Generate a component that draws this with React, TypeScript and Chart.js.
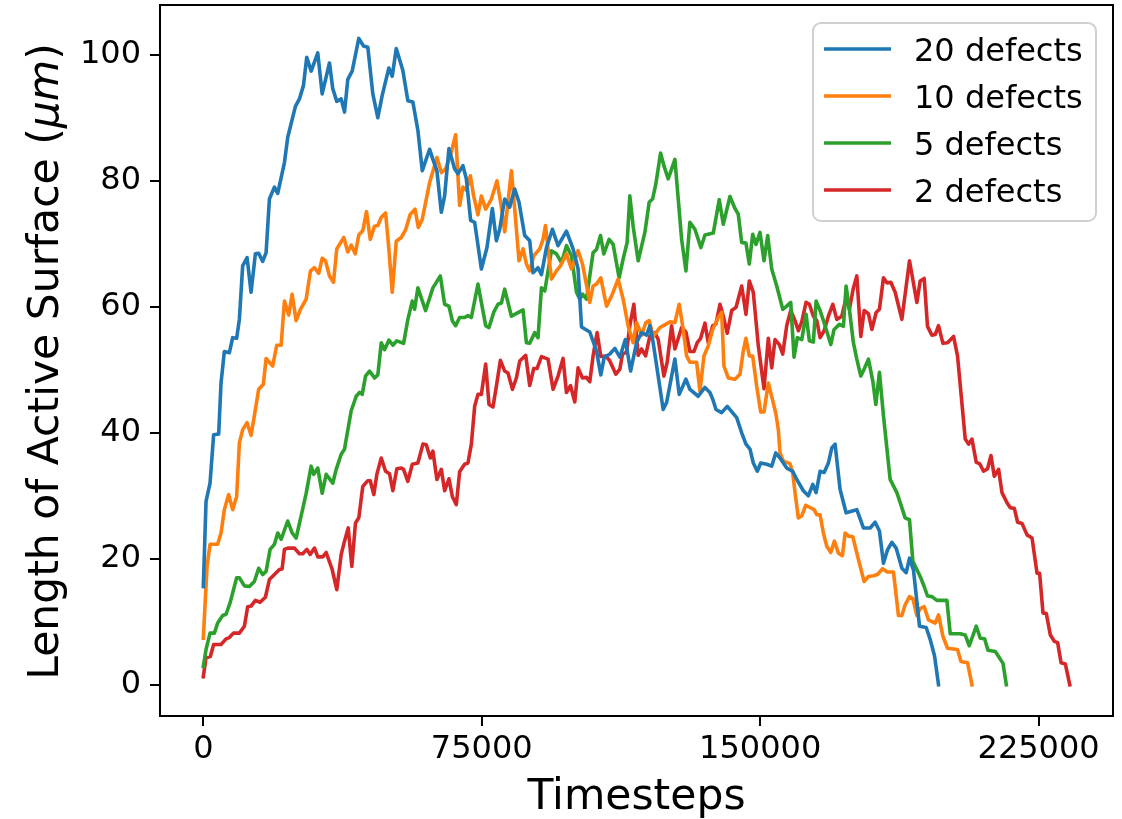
import React, { useEffect, useRef } from 'react';
import { Chart, registerables } from 'chart.js';

Chart.register(...registerables);

// Timesteps are stored in thousands (k), values in µm.
const seriesLabels = ['20 defects', '10 defects', '5 defects', '2 defects'];
const seriesColors = ['#1f77b4', '#ff7f0e', '#2ca02c', '#d62728'];

const defects20: [number, number][] = [[0,15.6],[0.73,29.1],[1.81,32],[2.78,39.7],[4.13,39.8],[4.77,47.9],[5.66,52.9],[7.01,52.7],[7.9,55.1],[8.98,55.0],[9.71,58],[10.6,66.5],[11.79,67.8],[12.86,62.3],[14.02,68.4],[14.91,68.5],[15.99,67.2],[16.91,68.6],[17.8,77.1],[19.15,79],[20.04,78],[21.85,82.9],[22.74,86.9],[24.81,91.8],[25.89,93],[26.97,95.1],[27.86,99.6],[29.05,97.4],[30.83,100.3],[32.01,93.8],[33.98,98.7],[34.87,94.6],[35.95,92.6],[37.14,93],[38.03,90.9],[38.92,96.1],[40.1,97.4],[41.88,102.6],[43.15,101.4],[44.31,101.2],[45.66,93.8],[47.01,90],[48.2,93.6],[49.98,97.9],[50.89,96.6],[51.97,101],[53.75,97.5],[55.1,92.7],[56.45,92.5],[57.8,88],[58.98,81.6],[60.95,85],[61.84,83.4],[62.92,81.6],[64.11,75],[65.0,77.6],[66.16,85.1],[67.69,81.9],[68.58,81.1],[69.93,82.4],[70.85,80.3],[72.01,73.7],[73.09,73.4],[74.9,66],[76.41,69.4],[77.86,75.6],[78.94,70.5],[79.83,72.3],[81.18,77.1],[82.53,75.8],[83.88,78.7],[85.04,76.6],[86.57,71.3],[87.92,70.5],[88.81,65.4],[90.16,66.2],[91.08,65.1],[92.43,69.4],[94.04,72.3],[95.55,69.7],[97.82,72],[99.6,69.2],[100.95,66],[101.87,56.8],[104.1,56],[105.9,53],[107.07,49.2],[108.0,52],[109.5,52.5],[110.85,53.4],[112.2,52],[113.68,54.8],[115.1,49.8],[116.7,54.3],[118.05,55.9],[119.4,55.5],[120.3,57],[121.18,54.3],[123.87,43.7],[124.79,44.8],[127.02,51.7],[128.19,46.1],[129.99,48.5],[131.07,46.9],[133.31,45.8],[135.12,47.2],[136.47,46.4],[137.36,45.1],[138.09,43.7],[139.62,43.2],[141.13,44.2],[143.67,42.4],[145.02,40],[146.17,38.2],[147.26,37.4],[148.15,35.2],[149.23,33.9],[150.14,35.2],[151.76,35],[153.11,34.7],[154.19,36.8],[155.35,36],[157.15,34.4],[158.77,33.9],[159.85,32.6],[161.63,30.8],[162.98,30],[164.17,31.8],[165.06,30.5],[166.14,33.9],[167.23,33.7],[168.37,35.2],[169.29,37.6],[170.18,38.2],[171.53,31],[173.14,27.3],[176.03,27.8],[177.81,24.9],[179.62,24.9],[180.97,25.8],[182.13,24.4],[183.21,19.3],[184.28,21.4],[185.47,22.6],[186.63,21.7],[188.17,18.5],[189.33,17.8],[190.22,20.1],[191.3,18.2],[192.92,9.3],[194.72,9.1],[195.8,7.2],[196.96,4.6],[198.04,0]];

const defects10: [number, number][] = [[0,7.4],[1.0,18.8],[1.81,22.3],[3.86,22.3],[4.77,24.1],[5.66,27.8],[6.82,30.2],[7.9,27.8],[8.98,29.9],[9.71,38.4],[10.6,40.5],[11.79,41.6],[12.86,39.6],[13.75,42.7],[14.91,46.9],[16.18,47.7],[16.91,51.8],[18.69,50.6],[19.77,53.9],[20.96,53.9],[21.85,60.9],[23.01,58.7],[23.92,62],[25.0,57.8],[26.16,59.6],[27.7,61.2],[28.86,65.7],[29.94,66.2],[31.1,65.3],[32.01,67.7],[32.9,67.3],[33.98,64.9],[35.06,63.9],[35.95,69.2],[37.84,71],[38.92,68.7],[39.83,69.8],[40.91,68.4],[41.88,71.4],[42.96,72.1],[43.96,75.1],[44.96,70.7],[46.12,72.8],[47.01,72.9],[47.93,74.2],[49.09,74.9],[49.98,69.2],[50.89,62.3],[51.97,70.4],[53.32,71.0],[54.48,72.2],[55.69,74.6],[57.02,75.5],[57.91,72.6],[58.98,73.9],[60.95,79.7],[62.92,83.7],[64.11,81.3],[65.27,81.9],[66.54,84],[67.96,87.3],[69.04,76.1],[69.93,79],[70.85,78.5],[71.93,80.8],[72.82,77.6],[73.98,74.6],[74.9,77.6],[76.06,75.5],[77.59,77.1],[79.1,80],[80.29,75.8],[81.18,71.9],[82.07,76.6],[82.99,81.6],[83.88,75.5],[85.04,67.3],[86.12,69.2],[87.03,66.8],[87.92,65.7],[89.0,68.1],[90.62,69.2],[91.51,70.7],[92.16,72.9],[92.86,69.2],[93.77,64.4],[95.12,65.7],[96.2,66.5],[97.82,68.4],[99.17,66],[100.95,68.9],[102.13,66.8],[104.1,60.7],[104.99,63.3],[105.9,63.6],[107.07,64.6],[108.61,60.1],[109.96,61.7],[111.74,64.4],[113.09,61.2],[114.43,57],[115.78,54.3],[116.7,57.5],[118.05,55.5],[119.21,57.5],[120.1,57.8],[121.18,55.3],[122.98,56.7],[125.68,57.6],[127.03,57.5],[128.19,60.4],[129.27,56.4],[130.18,52.2],[131.07,51.2],[132.88,51.2],[133.77,46.6],[134.85,52.2],[136.01,53.8],[137.2,56.4],[138.71,58.3],[139.63,59.1],[140.24,50.6],[141.4,48.7],[143.21,48.5],[144.56,49.3],[145.45,53],[146.17,55],[147.07,52.2],[147.98,52.2],[149.06,47.4],[150.14,43.3],[151.03,43.3],[152.19,47.9],[153.38,45.1],[154.27,42.9],[154.89,40.5],[155.35,36.8],[156.24,35.5],[158.05,35.1],[158.77,33.6],[159.39,30.5],[160.28,26.5],[161.2,26.8],[162.28,28.5],[163.57,28.1],[164.52,27.8],[165.25,27.0],[166.14,27],[167.02,24.1],[167.94,22],[169.02,21],[169.99,22.8],[171.07,20.9],[172.15,20.5],[172.88,24.1],[173.77,23.6],[174.95,23.5],[176.46,19.9],[178.0,16.4],[179.16,17.2],[180.51,17.3],[181.59,17.5],[182.93,18.4],[184.28,17.9],[185.9,17.9],[187.25,11],[188.17,11],[189.05,12.7],[190.22,14],[191.13,13.7],[192.21,11],[193.1,12.1],[194.18,12.4],[195.34,10.3],[197.15,9.8],[198.04,11.1],[199.23,7.7],[200.47,5.8],[203.16,5.6],[204.08,3.7],[205.86,3.5],[207.05,0]];

const defects5: [number, number][] = [[0,2.9],[0.73,5.6],[1.81,8.2],[2.97,8.2],[3.86,9.8],[5.21,11],[6.12,11.2],[7.2,13],[8.98,17],[9.71,17],[11.06,15.7],[12.41,15.6],[13.75,16.4],[14.91,18.5],[15.99,17.5],[16.91,18],[17.99,21.5],[19.15,22.3],[20.04,24.1],[20.96,23.1],[22.74,26],[23.92,24.1],[25.0,23.3],[26.35,26.8],[27.7,30.4],[29.05,34.7],[29.75,33.4],[30.83,34.4],[32.01,30.4],[33.09,33.4],[34.87,32],[35.79,34.2],[37.14,36.6],[38.03,37.4],[39.83,43.5],[41.18,45.8],[42.07,46.4],[42.8,46.1],[43.69,49],[44.77,49.8],[46.12,48.7],[47.01,49.2],[47.93,54.3],[48.82,53.2],[49.98,54.7],[51.05,53.9],[52.13,54.6],[53.94,54.2],[55.1,58],[56.29,60.9],[56.91,59.6],[57.8,63],[59.87,59.4],[61.84,63],[63.84,64.9],[65.0,60.4],[66.16,60.1],[67.07,57.8],[67.96,57],[69.04,58.3],[70.39,58.3],[71.28,58.6],[72.2,58.3],[73.98,63.6],[76.06,57],[76.95,56.7],[78.21,59.1],[79.37,60.4],[80.29,60.6],[81.18,62.8],[82.99,58.5],[83.88,58.8],[86.12,59.5],[87.03,54.3],[87.92,54.2],[89.27,55.9],[90.16,55.1],[91.08,63],[91.97,62.5],[93.77,68.9],[95.12,68.4],[96.47,67],[97.82,69.7],[99.17,68.1],[100.52,62.3],[101.41,61.2],[102.13,62],[103.21,61.2],[104.99,68.6],[105.9,69.1],[106.99,71.3],[107.88,68.4],[109.31,70.7],[110.39,69.9],[112.0,64.6],[113.09,67.6],[114.16,70.2],[114.89,77.6],[115.78,72.8],[117.13,67.3],[118.94,71.8],[120.1,76.6],[121.01,77.1],[121.9,79.5],[123.17,84.4],[124.06,82.4],[125.22,80.3],[127.03,83.4],[128.84,70.7],[130.0,65.7],[131.07,73.4],[132.42,72.3],[134.04,69.4],[135.12,71.4],[137.36,71.7],[138.98,77],[140.06,73.1],[141.86,77.5],[143.21,75.6],[144.1,74.7],[145.02,70.2],[146.17,70.1],[147.07,66.8],[147.98,71.5],[148.87,69.9],[149.95,71.8],[151.03,67.3],[152.03,71.3],[153.11,66],[154.46,63.3],[156.08,59.6],[157.15,60.1],[158.23,60.7],[159.12,52],[160.01,55.1],[161.2,54.8],[162.36,58.8],[163.25,54.6],[164.33,54.4],[165.06,60.9],[166.14,59.4],[167.49,57],[169.02,54],[169.91,56.4],[171.34,57.2],[172.42,56.9],[173.14,63.3],[174.03,59.6],[175.11,54.3],[176.03,51.7],[177.11,49],[178.0,50.1],[179.16,51.7],[180.34,48.2],[181.15,44.5],[182.13,49.6],[183.21,42.7],[185.01,32.6],[186.82,30.5],[187.9,28.6],[189.05,26.5],[190.22,26.2],[191.13,19.6],[193.1,17.2],[194.18,15.6],[195.07,14.1],[196.26,14],[197.6,13.4],[200.3,13.4],[201.2,8.1],[203.89,8.1],[205.24,7.9],[206.32,6.2],[208.21,9.3],[209.29,7.4],[210.45,7.3],[211.36,5.5],[213.33,5.3],[214.22,4.5],[215.41,3.4],[216.3,0]];

const defects2: [number, number][] = [[0,1.3],[0.73,4.3],[1.89,4.5],[2.78,6.4],[4.77,6.4],[6.12,7.3],[7.01,7.5],[8.09,8.2],[9.71,8.2],[11.06,9.3],[11.95,12.4],[12.86,12.5],[14.02,13.4],[15.29,13.1],[16.72,13.9],[17.8,16.7],[19.15,17.5],[20.5,18.3],[21.23,18.4],[21.85,21.5],[22.74,21.7],[24.54,21.7],[25.89,20.8],[26.78,20.8],[27.86,21.5],[28.78,20.7],[29.94,21.7],[30.83,20.3],[32.17,20.3],[33.09,21],[34.71,18.3],[35.95,15.1],[37.14,20.7],[38.03,22.8],[39.03,24.9],[40.0,18.8],[40.99,25.7],[41.88,26.5],[42.96,31.5],[44.31,32.4],[44.96,32.4],[45.93,30.2],[46.74,33.4],[47.93,36],[49.09,33.9],[50.16,33.5],[51.05,30.8],[52.13,34.3],[53.32,34.4],[53.94,34.2],[55.1,32.3],[56.29,35],[57.8,35.2],[59.15,38.2],[60.06,38.1],[61.14,36],[61.84,37.1],[62.92,32.6],[64.11,34.2],[65.0,30.8],[66.16,32.7],[67.07,29.9],[68.15,28.6],[69.04,33.8],[70.39,35],[71.28,35.2],[72.2,38.2],[73.09,44.2],[73.98,46.1],[74.9,46.1],[76.06,50.9],[76.95,44.5],[78.02,44.1],[78.94,47.4],[80.02,51.5],[81.18,49.8],[82.07,49.5],[83.26,46.9],[84.33,48.7],[85.23,51.4],[86.84,52.3],[87.92,47.5],[89.0,50.2],[89.89,50.2],[91.08,52.1],[92.86,51.7],[94.21,46.9],[95.55,49],[96.9,51.8],[97.82,46.4],[98.9,47.5],[100.06,44.9],[100.95,50.3],[102.13,48.7],[103.21,48.8],[104.1,48.1],[104.99,52.2],[106.07,55.9],[107.07,52.1],[108.42,52.2],[109.5,51.4],[111.12,49.3],[112.2,50.1],[112.92,52.5],[114.0,52.8],[114.89,57],[115.97,60.4],[117.13,52.3],[118.05,53.3],[119.13,52.2],[120.29,55.4],[121.63,55.9],[122.53,54.8],[124.06,49],[124.95,51.2],[126.14,57],[127.03,53.3],[128.84,56.7],[130.0,56.0],[131.07,52.9],[132.15,52.9],[133.04,54.3],[133.96,55],[135.12,57.4],[136.01,54.3],[137.2,57],[138.09,57.3],[139.17,60.4],[140.06,58.5],[141.13,55.8],[142.32,59.4],[143.48,59.9],[145.02,63.3],[146.17,58.8],[147.07,64.1],[148.15,62.3],[149.5,53.8],[151.03,47],[152.19,55],[153.11,50.3],[154.0,54.8],[155.16,54],[156.08,52.5],[157.15,57],[158.23,59.4],[159.39,57.8],[160.28,56.2],[161.2,57.6],[162.36,60.7],[163.25,60.4],[164.33,58.5],[165.25,57.8],[166.14,55.1],[167.23,56.2],[168.37,58.5],[169.56,60.4],[170.64,58],[171.99,58.5],[173.14,61.4],[174.03,59.6],[175.11,63],[176.03,64.9],[177.11,55.3],[178.0,59.4],[179.16,58.9],[180.08,56.4],[181.24,59.1],[182.13,59.6],[183.21,64.6],[184.13,63.8],[185.2,63.9],[186.36,62.3],[188.17,58],[190.22,67.3],[192.21,60.7],[193.1,64.1],[194.18,64.5],[195.07,56.9],[196.26,55.5],[197.15,55.6],[198.04,57],[199.23,54.2],[200.47,54.3],[202.09,55.3],[203.16,52.2],[205.24,39],[206.13,38.2],[207.05,39],[208.21,35.3],[209.1,35.1],[210.18,33.9],[211.25,34.3],[212.17,36.4],[213.06,33.1],[214.22,34.2],[215.14,30.5],[216.49,28.9],[217.38,28.1],[218.46,28],[219.35,25.8],[220.54,25.6],[221.88,23.8],[223.23,23.3],[224.58,17.7],[225.27,17.7],[226.19,11.4],[227.08,11.3],[228.16,7.9],[229.24,6.9],[230.13,6.7],[231.05,3.5],[232.21,3.3],[233.4,0]];

const allSeries = [defects20, defects10, defects5, defects2];

const xTickValues = [0, 75000, 150000, 225000];
const yTickValues = [0, 20, 40, 60, 80, 100];
const xTitle = 'Timesteps';
const yTitleParts = ['Length of Active Surface (', 'μm', ')'];

const FONT = '"DejaVu Sans", "Liberation Sans", sans-serif';

const decorPlugin = {
  id: 'decor',
  afterDraw(chart: any) {
    const { ctx, chartArea: a } = chart;
    ctx.save();
    // spines
    ctx.strokeStyle = '#000';
    ctx.lineWidth = 2;
    ctx.strokeRect(a.left, a.top, a.right - a.left, a.bottom - a.top);

    // x title
    ctx.fillStyle = '#000';
    ctx.font = `42.5px ${FONT}`;
    ctx.textAlign = 'center';
    ctx.textBaseline = 'alphabetic';
    ctx.fillText(xTitle, (a.left + a.right) / 2, 809);

    // y title (rotated, with italic math part)
    ctx.save();
    ctx.translate(58, (a.top + a.bottom) / 2 + 1);
    ctx.rotate(-Math.PI / 2);
    const fonts = [`42.5px ${FONT}`, `italic 42.5px ${FONT}`, `42.5px ${FONT}`];
    let total = 0;
    const widths = yTitleParts.map((p, i) => {
      ctx.font = fonts[i];
      const w = ctx.measureText(p).width;
      total += w;
      return w;
    });
    let x = -total / 2;
    ctx.textAlign = 'left';
    yTitleParts.forEach((p, i) => {
      ctx.font = fonts[i];
      ctx.fillText(p, x, 0);
      x += widths[i];
    });
    ctx.restore();

    // legend
    const lx = 813, ly = 23, lw = 283, lh = 198;
    ctx.beginPath();
    (ctx as any).roundRect(lx, ly, lw, lh, 8);
    ctx.fillStyle = 'rgba(255,255,255,0.8)';
    ctx.fill();
    ctx.strokeStyle = '#d0d0d0';
    ctx.lineWidth = 2;
    ctx.stroke();
    ctx.font = `32px ${FONT}`;
    ctx.textAlign = 'left';
    ctx.textBaseline = 'alphabetic';
    chart.data.datasets.forEach((ds: any, i: number) => {
      const yy = 49 + i * 47;
      ctx.strokeStyle = ds.borderColor;
      ctx.lineWidth = 3.6;
      ctx.beginPath();
      ctx.moveTo(824, yy);
      ctx.lineTo(891, yy);
      ctx.stroke();
      ctx.fillStyle = '#000';
      ctx.fillText(ds.label, 914, yy + 11.5);
    });
    ctx.restore();
  },
};

export default function App() {
  const ref = useRef<HTMLCanvasElement | null>(null);
  useEffect(() => {
    if (!ref.current) return;
    const chart = new Chart(ref.current, {
      type: 'line',
      data: {
        datasets: allSeries.map((s, i) => ({
          label: seriesLabels[i],
          data: s.map(([t, v]) => ({ x: t * 1000, y: v })),
          borderColor: seriesColors[i],
          backgroundColor: seriesColors[i],
          borderWidth: 3.6,
          pointRadius: 0,
          tension: 0,
          fill: false,
          borderJoinStyle: 'round',
          borderCapStyle: 'square',
        })),
      },
      options: {
        responsive: false,
        animation: false,
        devicePixelRatio: 1,
        layout: { padding: { left: 0, right: 9, top: 5, bottom: 0 } },
        plugins: { legend: { display: false }, tooltip: { enabled: false } },
        scales: {
          x: {
            type: 'linear',
            min: -11670,
            max: 245040,
            afterFit: (s: any) => { s.height = 103; s.paddingLeft = 0; s.paddingRight = 0; },
            afterBuildTicks: (s: any) => { s.ticks = xTickValues.map((v) => ({ value: v })); },
            grid: { drawOnChartArea: false, drawTicks: true, tickLength: 10, tickColor: '#000', lineWidth: 2 },
            border: { display: false },
            ticks: {
              autoSkip: false,
              maxRotation: 0,
              padding: 4,
              color: '#000',
              font: { family: FONT, size: 32 },
              callback: (v: any) => String(v),
            },
          },
          y: {
            type: 'linear',
            min: -4.95,
            max: 107.9,
            afterFit: (s: any) => { s.width = 160; s.paddingTop = 0; s.paddingBottom = 0; },
            afterBuildTicks: (s: any) => { s.ticks = yTickValues.map((v) => ({ value: v })); },
            grid: { drawOnChartArea: false, drawTicks: true, tickLength: 10, tickColor: '#000', lineWidth: 2 },
            border: { display: false },
            ticks: {
              padding: 9,
              color: '#000',
              font: { family: FONT, size: 32 },
              callback: (v: any) => String(v),
            },
          },
        },
      },
      plugins: [decorPlugin],
    } as any);
    return () => chart.destroy();
  }, []);
  return (
    <div style={{ position: 'absolute', left: 0, top: 0, width: 1122, height: 819, background: '#fff' }}>
      <canvas ref={ref} width={1122} height={819} />
    </div>
  );
}
